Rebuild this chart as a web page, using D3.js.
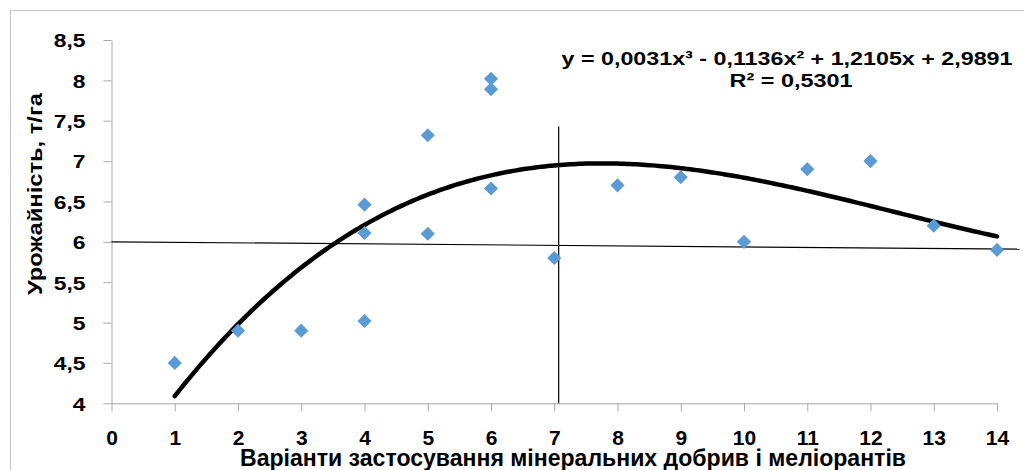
<!DOCTYPE html>
<html>
<head>
<meta charset="utf-8">
<script src="https://cdn.jsdelivr.net/npm/d3@7"></script>
<style>
  html, body { margin: 0; padding: 0; background: #fff; }
  svg { display: block; }
</style>
</head>
<body>
<div id="chart"></div>
<script>
const variants = [1, 2, 3, 4, 4, 4, 5, 5, 6, 6, 6, 7, 8, 9, 10, 11, 12, 13, 14];
const yields = [4.5, 4.9, 4.9, 5.02, 6.11, 6.46, 6.1, 7.32, 6.66, 7.89, 8.02, 5.8, 6.7, 6.8, 6.0, 6.9, 7.0, 6.2, 5.9];

const xTicks = d3.range(0, 15);
const yTicks = [4, 4.5, 5, 5.5, 6, 6.5, 7, 7.5, 8, 8.5];

// polynomial trend coefficients as printed on the chart (c0..c3)
const trendCoefs = [2.9891, 1.2105, -0.1136, 0.00306];
const trendRange = [1, 14];

// two hand-drawn guide lines, in data units
const hLine = [[0, 6.0], [14.36, 5.91]];
const vLine = [[7.07, 4.0], [7.07, 7.43]];

const equationText = "y = 0,0031x³ - 0,1136x² + 1,2105x + 2,9891";
const r2Text = "R² = 0,5301";
const yTitle = "Урожайність, т/га";
const xTitle = "Варіанти застосування мінеральних добрив і меліорантів";

const width = 1024;
const height = 470;
const font = "'Liberation Sans', Arial, sans-serif";
const axisGrey = "#a9a9a9";
const pointBlue = "#5b9bd5";

const svg = d3.create("svg")
  .attr("width", width)
  .attr("height", height)
  .attr("viewBox", [0, 0, width, height])
  .style("font-family", font);

// chart frame
svg.append("rect")
  .attr("x", 10.5).attr("y", 10.5)
  .attr("width", 1040).attr("height", 500)
  .attr("fill", "none")
  .attr("stroke", "#c6c6c6");

const x = d3.scaleLinear().domain([0, 14]).range([111.5, 997]);
const y = d3.scaleLinear().domain([4, 8.5]).range([403.3, 40]);

const fmt = d3.formatLocale({ decimal: ",", thousands: " ", grouping: [3], currency: ["", ""] });
const yFmt = (d) => fmt.format("~g")(d);

// x axis
const xAxis = svg.append("g")
  .attr("transform", `translate(0,${y(4)})`)
  .call(d3.axisBottom(x).tickValues(xTicks).tickSize(8).tickSizeOuter(0));
xAxis.select(".domain").attr("stroke", axisGrey);
xAxis.selectAll(".tick line").attr("stroke", axisGrey);
xAxis.selectAll(".tick text")
  .attr("y", 42).attr("dy", 0)
  .attr("fill", "#000")
  .attr("font-size", 21)
  .attr("font-weight", "bold")
  .attr("font-family", font);

// y axis (labels a bit wider than the font, as in the source)
const yStretch = 1.2;
const yAxis = svg.append("g")
  .attr("transform", `translate(${x(0)},0)`)
  .call(d3.axisLeft(y).tickValues(yTicks).tickFormat(yFmt).tickSize(8).tickSizeOuter(0));
yAxis.select(".domain").attr("stroke", axisGrey);
yAxis.selectAll(".tick line").attr("stroke", axisGrey);
yAxis.selectAll(".tick text")
  .attr("x", -26 / yStretch).attr("dy", "0.36em")
  .attr("transform", `scale(${yStretch},1)`)
  .attr("fill", "#000")
  .attr("font-size", 19)
  .attr("font-weight", "bold")
  .attr("font-family", font);

// trend curve
const trend = (v) => trendCoefs.reduce((s, c, i) => s + c * Math.pow(v, i), 0);
const trendXs = d3.range(trendRange[0], trendRange[1] + 0.0001, 0.05);

svg.append("path")
  .datum(trendXs)
  .attr("fill", "none")
  .attr("stroke", "#000")
  .attr("stroke-width", 4.5)
  .attr("stroke-linecap", "round")
  .attr("d", d3.line().x((d) => x(d)).y((d) => y(trend(d))));

// guide lines
const guide = d3.line().x((d) => x(d[0])).y((d) => y(d[1]));
svg.append("path").attr("d", guide(hLine)).attr("stroke", "#000").attr("stroke-width", 1.2).attr("fill", "none");
svg.append("path").attr("d", guide(vLine)).attr("stroke", "#000").attr("stroke-width", 1.2).attr("fill", "none");

// points
const diamond = d3.symbol(d3.symbolSquare, 100);
svg.append("g")
  .selectAll("path")
  .data(variants.map((v, i) => [v, yields[i]]))
  .join("path")
  .attr("d", diamond)
  .attr("transform", (d) => `translate(${x(d[0])},${y(d[1])}) rotate(45)`)
  .attr("fill", pointBlue);

// trendline label
svg.append("text")
  .attr("x", 787).attr("y", 65)
  .attr("text-anchor", "middle")
  .attr("font-size", 19).attr("font-weight", "bold")
  .attr("textLength", 451).attr("lengthAdjust", "spacingAndGlyphs")
  .text(equationText);
svg.append("text")
  .attr("x", 791).attr("y", 87)
  .attr("text-anchor", "middle")
  .attr("font-size", 19).attr("font-weight", "bold")
  .attr("textLength", 123).attr("lengthAdjust", "spacingAndGlyphs")
  .text(r2Text);

// axis titles
svg.append("text")
  .attr("transform", `translate(42,194) rotate(-90)`)
  .attr("text-anchor", "middle")
  .attr("font-size", 21).attr("font-weight", "bold")
  .attr("textLength", 202).attr("lengthAdjust", "spacingAndGlyphs")
  .text(yTitle);
svg.append("text")
  .attr("x", 573).attr("y", 466)
  .attr("text-anchor", "middle")
  .attr("font-size", 23).attr("font-weight", "bold")
  .attr("textLength", 666).attr("lengthAdjust", "spacingAndGlyphs")
  .text(xTitle);

document.getElementById("chart").appendChild(svg.node());
</script>
</body>
</html>
